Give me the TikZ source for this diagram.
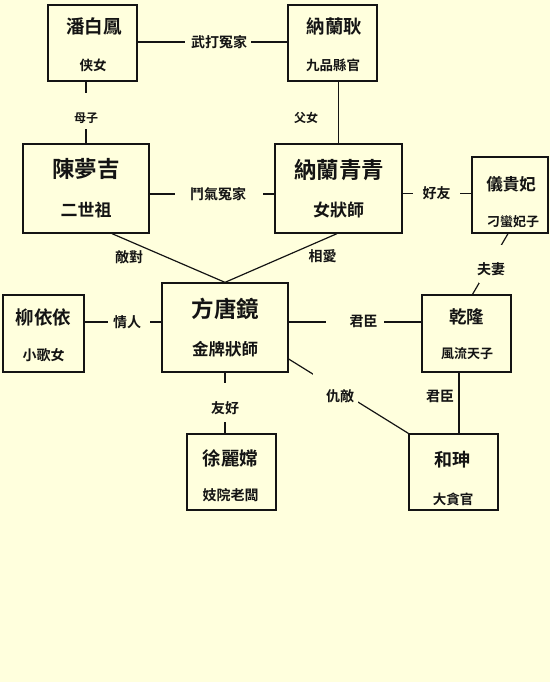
\documentclass[tikz,border=0pt]{standalone}
\usepackage{fontspec}
\setmainfont{Noto Sans CJK TC}[BoldFont={Noto Sans CJK TC Bold}]
\usetikzlibrary{fit}
\definecolor{bg}{RGB}{255,255,221}
\definecolor{ink}{RGB}{20,20,20}
\begin{document}
\begin{tikzpicture}[x=1pt,y=-1pt,
  pbox/.style={draw=ink, line width=1.3pt, fill=bg, inner sep=0, rectangle},
  txt/.style={font=\bfseries\fontsize{#1}{#1}\selectfont, inner sep=0, text=ink},
  gapfill/.style={fill=bg, inner sep=0, draw=none},
  link/.style={line width=1.2pt, draw=ink}]
\useasboundingbox[fill=bg] (0,0) rectangle (550,682);

% boxes
\node[pbox, minimum width=89pt, minimum height=76pt] (pan) at (92.5,43) {};
\node[pbox, minimum width=89pt, minimum height=76pt] (nal) at (332.5,43) {};
\node[pbox, minimum width=126pt, minimum height=89pt] (chen) at (86,188.5) {};
\node[pbox, minimum width=127pt, minimum height=89pt] (nlqq) at (338.5,188.5) {};
\node[pbox, minimum width=76pt, minimum height=76pt] (ygf) at (510,195) {};
\node[pbox, minimum width=81pt, minimum height=77pt] (liu) at (43.5,333.5) {};
\node[pbox, minimum width=126pt, minimum height=89pt] (fang) at (225,327.5) {};
\node[pbox, minimum width=89pt, minimum height=77pt] (qian) at (466.5,333.5) {};
\node[pbox, minimum width=89pt, minimum height=76pt] (xu) at (231.5,472) {};
\node[pbox, minimum width=89pt, minimum height=76pt] (he) at (453.5,472) {};

% box texts
\node[txt=18.5] (panT) at (94,26) {潘白鳳};
\node[txt=13.5] (panS) at (93,65) {侠女};
\node[txt=18.5] (nalT) at (334.5,26) {納蘭耿};
\node[txt=13.5] (nalS) at (333,65) {九品縣官};
\node[txt=22.5] (chenT) at (86,169) {陳夢吉};
\node[txt=17] (chenS) at (86,210) {二世祖};
\node[txt=22.5] (nlqqT) at (339,170) {納蘭青青};
\node[txt=17] (nlqqS) at (338.5,210) {女狀師};
\node[txt=16.5] (ygfT) at (511,184) {儀貴妃};
\node[txt=13] (ygfS) at (513,222) {刁蠻妃子};
\node[txt=18.5] (liuT) at (43.5,317) {柳依依};
\node[txt=14] (liuS) at (43.5,355) {小歌女};
\node[txt=22.5] (fangT) at (225.5,309) {方唐鏡};
\node[txt=16.5] (fangS) at (225,349) {金牌狀師};
\node[txt=17.5] (qianT) at (466.5,317) {乾隆};
\node[txt=13] (qianS) at (467,354) {風流天子};
\node[txt=18.5] (xuT) at (230.5,458) {徐麗嫦};
\node[txt=14] (xuS) at (230.5,495) {妓院老闆};
\node[txt=18] (heT) at (452.5,460) {和珅};
\node[txt=13.5] (heS) at (453,499) {大貪官};

% connectors
\draw[link] ([yshift=1pt]pan.east) -- ([yshift=1pt]pan.east -| nal.west);
\draw[link] (chen.north) -- (chen.north |- pan.south);
\draw[link] (nlqq.north) -- (nlqq.north |- nal.south);
\draw[link] ([yshift=-5.5pt]chen.east) -- ([yshift=-5.5pt]chen.east -| nlqq.west);
\draw[link] ([yshift=-5pt]nlqq.east) -- ([yshift=-5pt]nlqq.east -| ygf.west);
\draw[link] ([xshift=26pt]chen.south) -- (fang.north);
\draw[link] ([xshift=-1.5pt]nlqq.south) -- (fang.north);
\draw[link] ([xshift=-2pt]ygf.south) -- ([xshift=6pt]qian.north);
\draw[link] ([yshift=11.5pt]liu.east) -- ([yshift=11.5pt]liu.east -| fang.west);
\draw[link] ([yshift=11.5pt]qian.west) -- ([yshift=11.5pt]qian.west -| fang.east);
\draw[link] (fang.south) -- (fang.south |- xu.north);
\draw[link] ([yshift=-31.5pt]fang.east) -- (he.north west);
\draw[link] ([xshift=-7.5pt]qian.south) -- ([xshift=-7.5pt]qian.south |- he.north);

% gaps in connectors
\node[gapfill, fit={(185,36) (251,48)}] (g1) {};
\node[gapfill, fit={(80,93) (92,129)}] (g2) {};
\node[gapfill, fit={(175,187) (263,201)}] (g3) {};
\node[gapfill, fit={(413,187) (460,200)}] (g4) {};
\node[gapfill, fit={(479,245) (502,283)}] (g5) {};
\node[gapfill, fit={(108,316) (150,328)}] (g6) {};
\node[gapfill, fit={(326,315) (384,328)}] (g7) {};
\node[gapfill, fit={(219,383) (231,422)}] (g8) {};
\node[gapfill, fit={(313,373) (358,407)}] (g9) {};

% labels
\node[txt=14] (l1) at (219,42) {武打冤家};
\node[txt=12] (l2) at (86,118) {母子};
\node[txt=12] (l3) at (306,118) {父女};
\node[txt=14] (l4) at (218,194) {鬥氣冤家};
\node[txt=14] (l5) at (436.5,193) {好友};
\node[txt=14] (l6) at (129,257) {敵對};
\node[txt=14] (l7) at (322.5,256) {相愛};
\node[txt=14] (l8) at (491,269) {夫妻};
\node[txt=14] (l9) at (127,322) {情人};
\node[txt=14] (l10) at (363.5,321) {君臣};
\node[txt=14] (l11) at (225,408) {友好};
\node[txt=14] (l12) at (340,396) {仇敵};
\node[txt=14] (l13) at (440,396) {君臣};
\end{tikzpicture}
\end{document}
